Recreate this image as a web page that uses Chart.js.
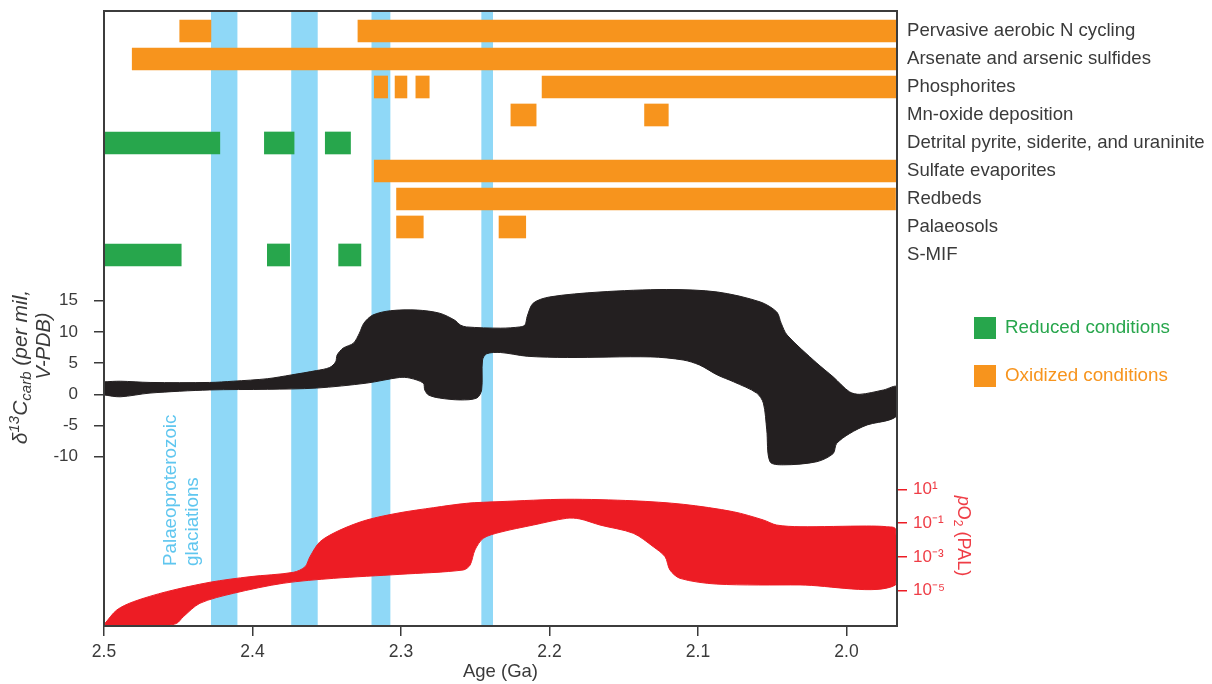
<!DOCTYPE html>
<html>
<head>
<meta charset="utf-8">
<title>Palaeoproterozoic oxygenation</title>
<script src="https://cdn.jsdelivr.net/npm/chart.js@4.4.1/dist/chart.umd.min.js"></script>
<style>
  html, body { margin: 0; padding: 0; background: #fff; }
  canvas { display: block; }
</style>
</head>
<body>
<canvas id="chart" width="1212" height="684"></canvas>
<script>
// ---- data ----
const AGE_OLD = 2.5
const AGE_YOUNG = 1.966   // right edge of the record

const ageTicks = [2.5, 2.4, 2.3, 2.2, 2.1, 2.0]
const d13cTicks = [15, 10, 5, 0, -5, -10]
const o2Ticks = [1, -1, -3, -5]   // log10 pO2 (PAL)

const proxyNames = [
  'Pervasive aerobic N cycling',
  'Arsenate and arsenic sulfides',
  'Phosphorites',
  'Mn-oxide deposition',
  'Detrital pyrite, siderite, and uraninite',
  'Sulfate evaporites',
  'Redbeds',
  'Palaeosols',
  'S-MIF'
]

// [row, from Ga, to Ga]
const oxidized = [
  [0, 2.449, 2.428], [0, 2.329, AGE_YOUNG],
  [1, 2.481, AGE_YOUNG],
  [2, 2.318, 2.309], [2, 2.304, 2.296], [2, 2.290, 2.281], [2, 2.205, AGE_YOUNG],
  [3, 2.226, 2.209], [3, 2.136, 2.120],
  [5, 2.318, AGE_YOUNG],
  [6, 2.303, 1.967],
  [7, 2.303, 2.285], [7, 2.234, 2.216]
]
const reduced = [
  [4, 2.5, 2.422], [4, 2.392, 2.372], [4, 2.351, 2.334],
  [8, 2.5, 2.448], [8, 2.390, 2.375], [8, 2.342, 2.327]
]

const glaciations = [[2.428, 2.410], [2.374, 2.356], [2.320, 2.307], [2.246, 2.238]]

// carbon isotope envelope [Ga, per mil]
const d13cUpper = [
  [2.5, 2.0], [2.489, 2.1], [2.469, 1.9], [2.429, 1.9], [2.413, 2.1], [2.390, 2.5],
  [2.374, 3.1], [2.357, 3.8], [2.348, 4.3], [2.344, 5.2], [2.343, 6.3], [2.339, 7.4],
  [2.332, 8.2], [2.328, 9.8], [2.325, 11.4], [2.319, 12.7], [2.307, 13.4], [2.289, 13.5],
  [2.274, 13.0], [2.264, 11.9], [2.260, 11.1], [2.256, 10.8], [2.233, 10.6], [2.220, 10.8],
  [2.2165, 11.1], [2.215, 12.5], [2.211, 14.6], [2.200, 15.6], [2.166, 16.4], [2.121, 16.8],
  [2.087, 16.4], [2.058, 14.8], [2.047, 13.2], [2.044, 11.4], [2.040, 9.5], [2.020, 5.0],
  [2.009, 2.8], [1.998, 0.4], [1.991, 0.0], [1.975, 0.7], [1.966, 1.2]
]
const d13cLower = [
  [2.5, -0.1], [2.489, -0.4], [2.469, 0.2], [2.429, 0.7], [2.390, 0.8], [2.357, 1.0],
  [2.323, 1.8], [2.301, 2.7], [2.294, 2.6], [2.285, 1.8], [2.284, 0.7], [2.2815, -0.1],
  [2.274, -0.6], [2.260, -0.9], [2.249, -0.6], [2.2457, 0.7], [2.2451, 5.5], [2.2423, 6.5],
  [2.233, 6.7], [2.215, 6.1], [2.188, 5.9], [2.132, 6.0], [2.110, 5.5], [2.099, 4.7],
  [2.087, 3.1], [2.076, 2.0], [2.0605, 0.2], [2.056, -1.4], [2.0537, -5.7], [2.0515, -10.8],
  [2.0426, -11.3], [2.020, -10.8], [2.009, -9.5], [2.0067, -7.9], [1.998, -6.3], [1.986, -4.9],
  [1.971, -4.1], [1.966, -3.3]
]

// oxygen envelope [Ga, log10 pO2]
const o2Upper = [
  [2.4993, -6.95], [2.4914, -6.16], [2.4803, -5.67], [2.4578, -5.07], [2.4286, -4.51],
  [2.4017, -4.18], [2.3725, -3.92], [2.3646, -3.59], [2.3613, -2.99], [2.3545, -2.10],
  [2.3411, -1.41], [2.3231, -0.81], [2.3007, -0.38], [2.2782, -0.08], [2.2558, 0.18],
  [2.2333, 0.28], [2.1884, 0.42], [2.1436, 0.33], [2.1099, 0.12], [2.0762, -0.32],
  [2.056, -0.81], [2.0471, -1.11], [2.0313, -1.21], [1.9864, -1.17], [1.973, -1.21], [1.967, -1.35]
]
const o2Lower = [
  [2.4993, -7.11], [2.4578, -7.07], [2.451, -6.95], [2.4466, -6.56], [2.4354, -5.76],
  [2.4129, -5.17], [2.3793, -4.57], [2.3456, -4.28], [2.3007, -4.04], [2.258, -3.78],
  [2.2535, -3.49], [2.2502, -2.59], [2.2446, -1.90], [2.2333, -1.54], [2.2109, -1.11],
  [2.1884, -0.71], [2.1795, -0.75], [2.166, -1.11], [2.1436, -1.60], [2.1301, -2.40],
  [2.1222, -2.99], [2.1189, -3.78], [2.1121, -4.28], [2.0874, -4.62], [2.0313, -4.67], [1.967, -4.67]
]

// ---- styles ----
const ORANGE = '#f7941d'
const GREEN = '#27a64c'
const BLUE = '#8fd8f7'
const BLACK = '#231f20'
const RED = '#ed1c24'
const RED_TEXT = '#ef3d46'
const INK = '#3a3a3a'
const FONT = "'Liberation Sans', Arial, sans-serif"

Chart.defaults.font.family = FONT
Chart.defaults.color = INK

const SUP = {'-': '\u207B', '0': '\u2070', '1': '\u00B9', '2': '\u00B2', '3': '\u00B3', '4': '\u2074', '5': '\u2075', '6': '\u2076', '7': '\u2077', '8': '\u2078', '9': '\u2079'}
const pow10 = v => '10' + String(v).split('').map(c => SUP[c]).join('')

const outline = (upper, lower) => upper.concat(lower.slice().reverse()).map(([x, y]) => ({x, y}))
const spans = oxidized.concat(reduced)

const bandSets = glaciations.map(([a, b]) => ({
  type: 'line',
  data: [{x: a, y: 1}, {x: b, y: 1}],
  yAxisID: 'yG',
  fill: 'start',
  backgroundColor: BLUE,
  borderWidth: 0,
  pointRadius: 0,
  order: 10
}))

// no label overhang padding, so the plot box sits where the figure has it
const noPad = s => { s.paddingTop = 0; s.paddingBottom = 0 }

// rich text helper for labels with sub/superscripts
function drawRich(ctx, parts, x, y, angle, align) {
  ctx.save()
  ctx.translate(x, y)
  ctx.rotate(angle)
  ctx.textBaseline = 'alphabetic'
  let w = 0
  parts.forEach(p => { ctx.font = p.font; w += ctx.measureText(p.text).width })
  let cx = align === 'center' ? -w / 2 : 0
  parts.forEach(p => {
    ctx.font = p.font
    ctx.fillStyle = p.color
    ctx.fillText(p.text, cx, p.dy || 0)
    cx += ctx.measureText(p.text).width
  })
  ctx.restore()
}

const decor = {
  id: 'decor',
  afterDraw(chart) {
    const {ctx, chartArea: a} = chart
    ctx.save()
    ctx.strokeStyle = '#3c3c3c'
    ctx.lineWidth = 2
    ctx.strokeRect(a.left, a.top, a.right - a.left, a.bottom - a.top)

    // left axis title, two lines
    const it = 'italic 21px ' + FONT, its = 'italic 15px ' + FONT
    drawRich(ctx, [
      {text: '\u03B4', font: it, color: INK},
      {text: '13', font: its, color: INK, dy: -8},
      {text: 'C', font: it, color: INK},
      {text: 'carb', font: its, color: INK, dy: 4},
      {text: ' (per mil,', font: it, color: INK}
    ], 27, 367, -Math.PI / 2, 'center')
    drawRich(ctx, [{text: 'V-PDB)', font: 'italic 20px ' + FONT, color: INK}], 50, 346, -Math.PI / 2, 'center')

    // right axis title
    const rf = '18px ' + FONT
    drawRich(ctx, [
      {text: 'p', font: 'italic ' + rf, color: RED_TEXT},
      {text: 'O', font: rf, color: RED_TEXT},
      {text: '2', font: '12px ' + FONT, color: RED_TEXT, dy: 4},
      {text: ' (PAL)', font: rf, color: RED_TEXT}
    ], 958, 536, Math.PI / 2, 'center')

    // glaciation label
    const gf = '18.8px ' + FONT
    drawRich(ctx, [{text: 'Palaeoproterozoic', font: gf, color: '#5fc6ef'}], a.left + 72, 566, -Math.PI / 2, 'left')
    drawRich(ctx, [{text: 'glaciations', font: gf, color: '#5fc6ef'}], a.left + 94, 566, -Math.PI / 2, 'left')

    // legend
    const lx = a.right + 77
    ;[[GREEN, 'Reduced conditions', 317], [ORANGE, 'Oxidized conditions', 365]].forEach(([c, t, y]) => {
      ctx.fillStyle = c
      ctx.fillRect(lx, y, 22, 22)
      ctx.font = '18.8px ' + FONT
      ctx.textBaseline = 'middle'
      ctx.fillText(t, lx + 31, y + 11)
    })
    ctx.restore()
  }
}

new Chart(document.getElementById('chart'), {
  type: 'line',
  data: {
    datasets: [
      {
        type: 'bar',
        indexAxis: 'y',
        data: spans.map(([r, a, b]) => ({y: r, x: [a, b]})),
        backgroundColor: oxidized.map(() => ORANGE).concat(reduced.map(() => GREEN)),
        borderWidth: 0,
        barThickness: 22,
        xAxisID: 'x',
        yAxisID: 'yB',
        order: 1
      },
      {
        data: outline(d13cUpper, d13cLower),
        yAxisID: 'yD',
        fill: 'shape',
        backgroundColor: BLACK,
        borderColor: BLACK,
        borderWidth: 1,
        pointRadius: 0,
        tension: 0.3,
        order: 2
      },
      {
        data: outline(o2Upper, o2Lower),
        yAxisID: 'yP',
        fill: 'shape',
        backgroundColor: RED,
        borderColor: RED,
        borderWidth: 1,
        pointRadius: 0,
        tension: 0.3,
        order: 3
      },
      ...bandSets
    ]
  },
  options: {
    responsive: false,
    animation: false,
    events: [],
    layout: {padding: {top: 11, left: 0, right: 0, bottom: 0}},
    plugins: {legend: {display: false}, tooltip: {enabled: false}},
    scales: {
      x: {
        type: 'linear',
        reverse: true,
        min: AGE_YOUNG,
        max: AGE_OLD,
        afterBuildTicks: s => { s.ticks = ageTicks.map(v => ({value: v})) },
        ticks: {callback: v => v.toFixed(1), font: {size: 17.5}, padding: 6, maxRotation: 0},
        grid: {drawOnChartArea: false, tickLength: 10, color: INK, lineWidth: 1.5},
        border: {display: false},
        title: {display: true, text: 'Age (Ga)', font: {size: 18.5}, padding: {top: 0, bottom: 1}},
        afterFit: s => { s.height = 58; s.paddingLeft = 0; s.paddingRight = 0 }
      },
      yD: {
        type: 'linear',
        position: 'left',
        min: -37.13,
        max: 61.43,
        afterBuildTicks: s => { s.ticks = d13cTicks.map(v => ({value: v})) },
        ticks: {font: {size: 17}, padding: 16},
        grid: {drawOnChartArea: false, tickLength: 10, color: INK, lineWidth: 1.5},
        border: {display: false},
        afterFit: s => { s.width = 104; noPad(s) }
      },
      yG: {
        type: 'linear',
        display: false,
        min: 0,
        max: 1,
        afterFit: s => { s.width = 0; noPad(s) }
      },
      yB: {
        type: 'linear',
        position: 'right',
        stack: 'side',
        stackWeight: 459,
        reverse: true,
        offset: false,
        min: -0.714,
        max: 15.68,
        afterBuildTicks: s => { s.ticks = proxyNames.map((n, i) => ({value: i})) },
        ticks: {callback: v => proxyNames[v], font: {size: 18.6}, padding: 10},
        grid: {display: false, drawTicks: false, offset: false},
        border: {display: false},
        afterFit: s => { s.width = 315; noPad(s) }
      },
      yP: {
        type: 'linear',
        position: 'right',
        stack: 'side',
        stackWeight: 156,
        min: -7.11,
        max: 2.159,
        afterBuildTicks: s => { s.ticks = o2Ticks.map(v => ({value: v})) },
        ticks: {callback: pow10, color: RED_TEXT, font: {size: 17}, padding: 6},
        grid: {drawOnChartArea: false, tickLength: 10, color: RED, lineWidth: 1.5},
        border: {display: false},
        afterFit: s => { s.width = 315; noPad(s) }
      }
    }
  },
  plugins: [decor]
})
</script>
</body>
</html>
